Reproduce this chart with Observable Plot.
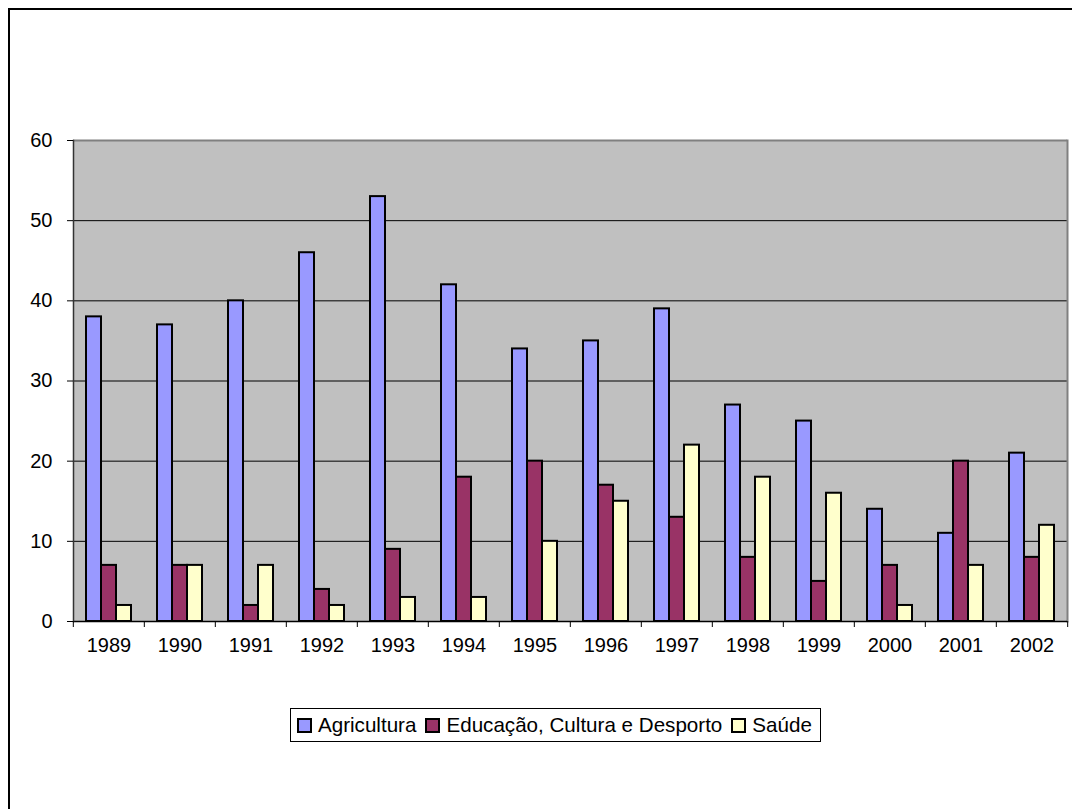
<!DOCTYPE html>
<html><head><meta charset="utf-8">
<script src="https://cdn.jsdelivr.net/npm/d3@7"></script>
<script src="https://cdn.jsdelivr.net/npm/@observablehq/plot@0.6"></script>
<style>
html,body{margin:0;padding:0;background:#fff;font-family:"Liberation Sans",Arial,sans-serif;overflow:hidden;}
#page{position:relative;width:1072px;height:809px;overflow:hidden;}
#bl{position:absolute;left:8px;top:8px;width:1.5px;height:801px;background:#000;}
#bt{position:absolute;left:8px;top:8px;height:1.5px;width:1064px;background:#000;}
#chart{position:relative;}
#legend{position:relative;margin-left:290px;margin-top:28px;display:inline-flex;align-items:center;border:1px solid #000;height:34px;box-sizing:border-box;padding:0 8px 0 6px;font-size:20.6px;background:#fff;white-space:nowrap;}
.item{display:inline-flex;align-items:center;margin-right:9px;}
.item:last-child{margin-right:0;}
.sw{width:15px;height:15px;box-sizing:border-box;border:2px solid #000;margin-right:6px;}
</style></head>
<body><div id="page"><div id="bl"></div><div id="bt"></div><div id="chart"></div><div id="legend"></div></div>
<script>
const years = ["1989","1990","1991","1992","1993","1994","1995","1996","1997","1998","1999","2000","2001","2002"];
const series = ["Agricultura","Educação, Cultura e Desporto","Saúde"];
const agricultura = [38,37,40,46,53,42,34,35,39,27,25,14,11,21];
const educacao = [7,7,2,4,9,18,20,17,13,8,5,7,20,8];
const saude = [2,7,7,2,3,3,10,15,22,18,16,2,7,12];
const colors = ["#9999FF","#993366","#FFFFCC"];
const yTicks = [0,10,20,30,40,50,60];

const values = [agricultura, educacao, saude];
const data = [];
years.forEach((yr,i)=>series.forEach((s,j)=>data.push({year:yr, series:s, value:values[j][i]})));

const W = 1072, ML = 70, MR = 3;
const bw = (W - ML - MR) / years.length;

const plot = Plot.plot({
  width: W, height: 680,
  marginLeft: ML, marginRight: MR, marginTop: 140, marginBottom: 59,
  style: {fontFamily: '"Liberation Sans", Arial, sans-serif', fontSize: "20px", color: "#000", background: "transparent", overflow: "visible"},
  fx: {domain: years, padding: 0, axis: null, label: null},
  x: {domain: series, paddingInner: 0, paddingOuter: 0.75, axis: null},
  y: {domain: [0,60], axis: null, label: null},
  color: {domain: series, range: colors},
  marks: [
    Plot.frame({fill: "#C0C0C0", stroke: null, shapeRendering: "crispEdges"}),
    Plot.ruleY(yTicks.slice(1, -1), {stroke: "#000", strokeWidth: 1}),
    Plot.ruleY([60], {stroke: "#808080", strokeWidth: 2}),
    Plot.frame({anchor: "right", facetAnchor: "right", stroke: "#808080", strokeWidth: 2}),
    Plot.barY(data, {fx: "year", x: "series", y: "value", fill: "series", stroke: "#000", strokeWidth: 2}),
    Plot.ruleY([0], {stroke: "#000", strokeWidth: 1.5}),
    Plot.frame({anchor: "left", facetAnchor: "left", stroke: "#333", strokeWidth: 1.5}),
    Plot.axisY({ticks: yTicks, tickSize: 6, tickPadding: 15, fontSize: 20, label: null, stroke: "#000"}),
    Plot.axisFx({anchor: "bottom", tickSize: 0, tickPadding: 16, fontSize: 20, label: null}),
    Plot.axisFx({anchor: "bottom", tickSize: 6, tickFormat: () => "", label: null, dx: -bw/2}),
    Plot.axisFx({anchor: "bottom", ticks: [years[years.length-1]], tickSize: 6, tickFormat: () => "", label: null, dx: bw/2})
  ]
});
document.getElementById("chart").appendChild(plot);

const legend = document.getElementById("legend");
series.forEach((s,i)=>{
  const it = document.createElement("span"); it.className = "item";
  const sw = document.createElement("span"); sw.className = "sw"; sw.style.background = colors[i];
  const tx = document.createElement("span"); tx.textContent = s;
  it.appendChild(sw); it.appendChild(tx); legend.appendChild(it);
});
</script></body></html>
